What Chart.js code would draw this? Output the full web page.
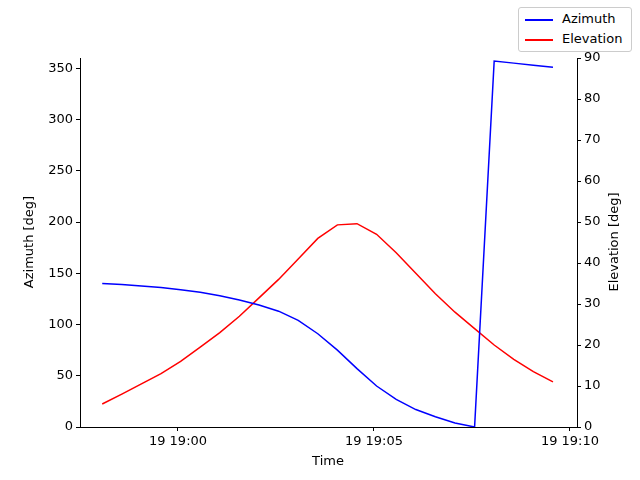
<!DOCTYPE html>
<html><head><meta charset="utf-8">
<script src="https://cdn.jsdelivr.net/npm/chart.js@4/dist/chart.umd.min.js"></script>
<style>
body{margin:0;background:#fff;font-family:"DejaVu Sans";}
#wrap{position:relative;width:640px;height:480px;}
#leg{position:absolute;left:518px;top:7px;width:114px;height:45px;border:1px solid #ccc;border-radius:3px;background:#fff;font-size:13px;box-sizing:border-box;}
.row{position:absolute;left:6px;height:16px;line-height:16px;}
.ln{display:inline-block;width:28px;height:0;border-top:2px solid;vertical-align:middle;margin-right:9px;}
</style></head><body>
<div id="wrap"><canvas id="c" width="640" height="480"></canvas>
<div id="leg"><div class="row" style="top:3px"><span class="ln" style="border-color:blue"></span>Azimuth</div>
<div class="row" style="top:23px"><span class="ln" style="border-color:red"></span>Elevation</div></div></div>
<script>
// minutes relative to 19:00, 30 s spacing starting 18:58:04
const times = Array.from({length:24},(_,k)=>-1.933+0.5*k);
const azimuth = [140,139,137.5,136,134,131.5,128,124,119,113,104,91,75,57,40,27,17,10,4,0,357,355,353,351];
const elevation = [5.6,8,10.5,13,16,19.5,23,27,31.5,36,41,46,49.3,49.6,47,42.5,37.5,32.5,28,24,20,16.5,13.5,11];
const tickLabels = {0:"19 19:00",5:"19 19:05",10:"19 19:10"};
const F={family:"DejaVu Sans",size:13};
const ax={grid:{drawOnChartArea:false,color:'#000',tickLength:4},border:{color:'#000'},ticks:{color:'#000',font:F}};
const titles={id:'titles',afterDraw(ch){const c=ch.ctx;c.save();c.fillStyle='#000';c.font='13px "DejaVu Sans"';c.textAlign='center';c.textBaseline='middle';
c.fillText('Time',328,462);
c.translate(30,242);c.rotate(-Math.PI/2);c.fillText('Azimuth [deg]',0,0);c.restore();
c.save();c.fillStyle='#000';c.font='13px "DejaVu Sans"';c.textAlign='center';c.textBaseline='middle';
c.translate(615,242);c.rotate(-Math.PI/2);c.fillText('Elevation [deg]',0,0);c.restore();}};
new Chart(document.getElementById('c'),{
type:'line',plugins:[titles],
data:{datasets:[
{label:'Azimuth',data:times.map((t,i)=>({x:t,y:azimuth[i]})),borderColor:'blue',borderWidth:1.5,pointRadius:0,yAxisID:'y',tension:0},
{label:'Elevation',data:times.map((t,i)=>({x:t,y:elevation[i]})),borderColor:'red',borderWidth:1.5,pointRadius:0,yAxisID:'y2',tension:0}]},
options:{responsive:false,animation:false,layout:{padding:{top:58,left:0,right:0,bottom:0}},
plugins:{legend:{display:false},tooltip:{enabled:false}},
scales:{
x:{...ax,type:'linear',min:-2.5,max:10.18,afterBuildTicks:s=>{s.ticks=[0,5,10].map(v=>({value:v}));},
 ticks:{...ax.ticks,callback:v=>tickLabels[v]||''},afterFit:s=>{s.height=53;}},
y:{...ax,position:'left',min:0,max:360,afterBuildTicks:s=>{s.ticks=[0,50,100,150,200,250,300,350].map(v=>({value:v}));},
 afterFit:s=>{s.width=80;}},
y2:{...ax,position:'right',min:0,max:90,afterBuildTicks:s=>{s.ticks=[0,10,20,30,40,50,60,70,80,90].map(v=>({value:v}));},
 afterFit:s=>{s.width=63;}}
}}});
</script></body></html>
